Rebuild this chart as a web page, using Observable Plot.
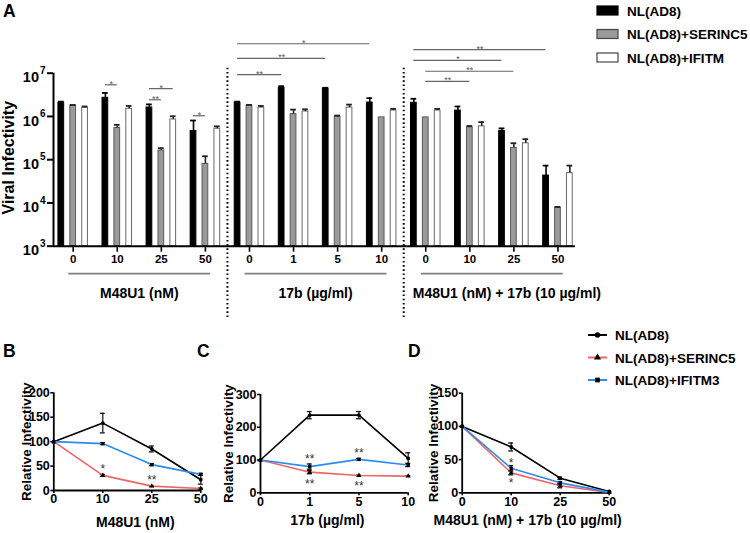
<!DOCTYPE html>
<html><head><meta charset="utf-8">
<script src="https://cdn.jsdelivr.net/npm/d3@7"></script>
<script src="https://cdn.jsdelivr.net/npm/@observablehq/plot@0.6"></script>
<style>
body{margin:0;background:#fff;font-family:"Liberation Sans",Arial,sans-serif;}
#wrap{position:relative;width:750px;height:533px;overflow:hidden;background:#fff;}
#wrap svg{position:absolute;}
</style></head><body><div id="wrap"></div><script>
// ---------------- DATA: panel A ----------------
const seriesA = ["NL(AD8)", "NL(AD8)+SERINC5", "NL(AD8)+IFITM"];
const doseLabelsA = ["0","10","25","50","0","1","5","10","0","10","25","50"];
const treatmentsA = ["M48U1 (nM)", "17b (µg/ml)", "M48U1 (nM) + 17b (10 µg/ml)"];
const treatmentStart = [0, 4, 8];
const treatmentEnd = [3, 7, 11];
const meanAD8 = [2.07e6, 2.7e6, 1.61e6, 4.6e5, 2.07e6, 4.6e6, 4.4e6, 2.1e6, 2.07e6, 1.37e6, 4.6e5, 4.3e4];
const errAD8 = [1.3e5, 8.0e5, 2.9e5, 3.45e5, 1.3e5, 4.0e5, 2.0e5, 5.5e5, 4.9e5, 3.3e5, 7.0e4, 3.0e4];
const meanSERINC5 = [1.79e6, 5.4e5, 1.63e5, 8.0e4, 1.8e6, 1.13e6, 9.8e5, 9.5e5, 9.5e5, 5.6e5, 1.88e5, 7.7e3];
const errSERINC5 = [5.0e4, 1.0e5, 2.2e4, 4.0e4, 5.0e4, 3.1e5, 7.0e4, 0, 0, 4.0e4, 5.2e4, 4.0e2];
const meanIFITM = [1.58e6, 1.5e6, 8.5e5, 5.2e5, 1.6e6, 1.3e6, 1.6e6, 1.37e6, 1.37e6, 5.9e5, 2.4e5, 4.9e4];
const errIFITM = [1.2e5, 2.5e5, 1.6e5, 7.0e4, 1.5e5, 1.6e5, 2.8e5, 1.3e5, 1.3e5, 1.5e5, 5.8e4, 2.4e4];
const yTicksA = [1e3, 1e4, 1e5, 1e6, 1e7];
// significance brackets: group/series of both ends, level, label
const brGroup1 = [1, 2, 2, 3, 4, 4, 4, 8, 8, 8, 8];
const brSeries1 = [0, 0, 0, 0, 0, 0, 0, 0, 0, 1, 1];
const brGroup2 = [1, 2, 2, 3, 5, 6, 7, 11, 10, 10, 9];
const brSeries2 = [1, 2, 1, 1, 0, 0, 0, 0, 0, 1, 1];
const brLevel = [5.4e6, 4.4e6, 2.43e6, 1.04e6, 9.3e6, 2.2e7, 4.8e7, 3.5e7, 1.97e7, 1.11e7, 6.5e6];
const brLabel = ["*", "*", "**", "*", "**", "**", "*", "**", "*", "**", "**"];

// ---------------- DATA: panels B, C, D ----------------
const lineSeries = ["NL(AD8)", "NL(AD8)+SERINC5", "NL(AD8)+IFITM3"];
const dosesB = ["0", "10", "25", "50"];
const bAD8 = [100, 138, 85, 22], bAD8Err = [0, 20, 6, 9];
const bSER = [100, 31, 9, 4], bSERErr = [0, 2, 1, 1];
const bIF = [100, 96, 53, 33], bIFErr = [0, 2, 2, 2];
const starsBx = [1, 2], starsBy = [49, 27], starsBt = ["*", "**"];

const dosesC = ["0", "1", "5", "10"];
const cAD8 = [100, 237, 237, 105], cAD8Err = [0, 11, 11, 17];
const cSER = [100, 63, 53, 51], cSERErr = [0, 5, 1, 1];
const cIF = [100, 80, 102, 85], cIFErr = [0, 8, 3, 5];
const starsCx = [1, 1, 2, 2], starsCy = [111, 37, 131, 29], starsCt = ["**", "**", "**", "**"];

const dosesD = ["0", "10", "25", "50"];
const dAD8 = [100, 69, 22, 2], dAD8Err = [0, 6, 1.5, 1];
const dSER = [100, 30, 10.5, 0.5], dSERErr = [0, 3, 3, 0.5];
const dIF = [100, 37, 15, 1], dIFErr = [0, 4, 2, 1];
const starsDx = [1, 1], starsDy = [49, 18.5], starsDt = ["*", "*"];

// ---------------- STYLE ----------------
const FONT = "Liberation Sans, Arial, Helvetica, sans-serif";
const fillA = ["#000000", "#9a9a9a", "#ffffff"];
const strokeA = ["#000000", "#5a5a5a", "#6a6a6a"];
const capColorA = ["#000000", "#222222", "#222222"];
const groupLabelShift = [0, 0, 15];
const lineColors = ["#000000", "#ef6466", "#2a8cf0"];
const lineSymbols = ["circle", "triangle", "square"];
const wrap = document.getElementById("wrap");

// ---------------- PANEL A ----------------
(function () {
  const OFF = 0.27, BW = 0.13, CAP = 0.065, X0 = -0.447, X1 = 11.398;
  const means = [meanAD8, meanSERINC5, meanIFITM];
  const errs = [errAD8, errSERINC5, errIFITM];
  const pos = (g, si) => g + (si - 1) * OFF;
  const marks = [];
  // separators (dotted)
  marks.push(Plot.ruleX([3.5, 7.5], {x: d => d, y1: () => 1e7, y2: () => 1e3, insetTop: -5, insetBottom: -72,
    stroke: "#000", strokeWidth: 2, strokeDasharray: "1.6,2.6"}));
  seriesA.forEach((s, si) => {
    const rows = means[si].map((v, g) => ({g, v, e: errs[si][g]}));
    marks.push(Plot.rect(rows, {x1: d => pos(d.g, si) - BW / 2, x2: d => pos(d.g, si) + BW / 2,
      y1: () => 1e3, y2: "v", fill: fillA[si], stroke: strokeA[si], strokeWidth: 1}));
    const er = rows.filter(d => d.e > 0);
    marks.push(Plot.ruleX(er, {x: d => pos(d.g, si), y1: "v", y2: d => d.v + d.e, stroke: capColorA[si], strokeWidth: 1.6}));
    marks.push(Plot.ruleY(er, {y: d => d.v + d.e, x1: d => pos(d.g, si) - CAP, x2: d => pos(d.g, si) + CAP, stroke: capColorA[si], strokeWidth: 1.8}));
  });
  // brackets
  const br = brLabel.map((t, k) => ({x1: pos(brGroup1[k], brSeries1[k]), x2: pos(brGroup2[k], brSeries2[k]), y: brLevel[k], t}));
  marks.push(Plot.ruleY(br, {y: "y", x1: "x1", x2: "x2", stroke: "#666", strokeWidth: 1.2}));
  marks.push(Plot.text(br, {x: d => (d.x1 + d.x2) / 2, y: "y", text: "t", lineAnchor: "bottom", dy: 2, fontSize: 9, fill: "#555", fontWeight: "normal"}));
  // axes
  marks.push(Plot.ruleY([1e3], {x1: () => X0, x2: () => X1, strokeWidth: 2}));
  marks.push(Plot.ruleX([X0], {y1: () => 1e3, y2: () => 1e7, strokeWidth: 2}));
  marks.push(Plot.axisY({ticks: yTicksA, tickFormat: () => "", tickSize: 6, strokeWidth: 2, label: null}));
  marks.push(Plot.text(yTicksA, {x: () => X0, y: d => d, text: () => "10", textAnchor: "end", dx: -14.5, dy: 4.5, fontSize: 14.5}));
  marks.push(Plot.text(yTicksA, {x: () => X0, y: d => d, text: d => String(Math.round(Math.log10(d))), textAnchor: "end", dx: -8, dy: -2.5, fontSize: 10}));
  marks.push(Plot.axisX({ticks: d3.range(12), tickFormat: i => doseLabelsA[i], tickSize: 6, tickPadding: 3, fontSize: 11.5, strokeWidth: 1.6, label: null}));
  // group underline + labels
  const grp = treatmentsA.map((t, k) => ({t, a: treatmentStart[k], b: treatmentEnd[k], k}));
  marks.push(Plot.ruleY(grp, {y: () => 1e3, x1: d => d.a - 0.1, x2: d => d.b + 0.12, dy: 27.5, stroke: "#808080", strokeWidth: 1.8}));
  grp.forEach(g => marks.push(Plot.text([g], {x: d => (d.a + d.b) / 2, y: () => 1e3, text: "t", dy: 47, dx: groupLabelShift[g.k], fontSize: 14})));
  marks.push(Plot.text(["Viral Infectivity"], {text: d => d, frameAnchor: "left", textAnchor: "middle", lineAnchor: "middle", rotate: -90, dx: -44.5, dy: -2, fontSize: 16}));
  const svg = Plot.plot({
    width: 600, height: 325,
    marginLeft: 53, marginRight: 25, marginTop: 72.7, marginBottom: 79.3,
    x: {domain: [X0, X1]},
    y: {type: "log", domain: [1e3, 1e7]},
    style: {fontFamily: FONT, fontWeight: "bold", color: "#000", background: "transparent", overflow: "visible"},
    marks
  });
  svg.style.left = "0px"; svg.style.top = "0px";
  wrap.appendChild(svg);
})();

// ---------------- PANELS B, C, D ----------------
function linePanel(cfg) {
  const n = cfg.doses.length;
  const marks = [];
  marks.push(Plot.ruleY([0], {x1: () => 0, x2: () => n - 1, strokeWidth: 1.8}));
  marks.push(Plot.ruleX([0], {y1: () => 0, y2: () => cfg.yMax, strokeWidth: 1.8}));
  lineSeries.forEach((s, si) => {
    const rows = cfg.means[si].map((v, i) => ({i, v, e: cfg.errs[si][i]}));
    const er = rows.filter(d => d.e > 0);
    marks.push(Plot.ruleX(er, {x: "i", y1: d => d.v - d.e, y2: d => d.v + d.e, stroke: "#111", strokeWidth: 1.2}));
    marks.push(Plot.ruleY(er, {y: d => d.v + d.e, x1: d => d.i - cfg.cap, x2: d => d.i + cfg.cap, stroke: "#111", strokeWidth: 1.3}));
    marks.push(Plot.ruleY(er, {y: d => d.v - d.e, x1: d => d.i - cfg.cap, x2: d => d.i + cfg.cap, stroke: "#111", strokeWidth: 1.3}));
    marks.push(Plot.line(rows, {x: "i", y: "v", stroke: lineColors[si], strokeWidth: 1.6}));
    marks.push(Plot.dot(rows, {x: "i", y: "v", symbol: lineSymbols[si], r: 1.9, fill: "#000", stroke: "none"}));
  });
  const stars = cfg.starsT.map((t, k) => ({x: cfg.starsX[k], y: cfg.starsY[k], t}));
  marks.push(Plot.text(stars, {x: "x", y: "y", text: "t", fontSize: 12, dy: 3, fill: "#333", fontWeight: "normal"}));
  marks.push(Plot.axisY({ticks: cfg.yTicks, tickSize: 3, tickPadding: 1, fontSize: 12.5, strokeWidth: 1.6, label: null}));
  marks.push(Plot.axisX({ticks: d3.range(n), tickFormat: i => cfg.doses[i], tickSize: 3, tickPadding: 1, fontSize: 12.5, strokeWidth: 1.6, label: null}));
  marks.push(Plot.text([cfg.title], {text: d => d, frameAnchor: "bottom", textAnchor: "middle", lineAnchor: "middle", dy: cfg.titleDy, dx: cfg.titleDx, fontSize: 14}));
  marks.push(Plot.text(["Relative Infectivity"], {text: d => d, frameAnchor: "left", textAnchor: "middle", lineAnchor: "middle", rotate: -90, dx: cfg.ylabDx, fontSize: 13.5}));
  const svg = Plot.plot({
    width: cfg.width, height: 203,
    marginLeft: cfg.mL, marginRight: cfg.mR, marginTop: cfg.mT, marginBottom: cfg.mB,
    x: {domain: [0, n - 1]},
    y: {domain: [0, cfg.yMax]},
    style: {fontFamily: FONT, fontWeight: "bold", color: "#000", background: "transparent", overflow: "visible"},
    marks
  });
  svg.style.left = cfg.left + "px"; svg.style.top = "330px";
  wrap.appendChild(svg);
}
linePanel({left: 0, width: 215, mL: 53.3, mR: 14.7, mT: 62.3, mB: 43, yMax: 200, yTicks: [0, 50, 100, 150, 200],
  doses: dosesB, means: [bAD8, bSER, bIF], errs: [bAD8Err, bSERErr, bIFErr], cap: 0.05,
  starsX: starsBx, starsY: starsBy, starsT: starsBt, title: "M48U1 (nM)", titleDy: 32, titleDx: 8, ylabDx: -27.3});
linePanel({left: 215, width: 210, mL: 45, mR: 17.3, mT: 64, mB: 40.7, yMax: 300, yTicks: [0, 100, 200, 300],
  doses: dosesC, means: [cAD8, cSER, cIF], errs: [cAD8Err, cSERErr, cIFErr], cap: 0.05,
  starsX: starsCx, starsY: starsCy, starsT: starsCt, title: "17b (µg/ml)", titleDy: 28, titleDx: -7, ylabDx: -32});
linePanel({left: 425, width: 200, mL: 36.7, mR: 16.3, mT: 62.7, mB: 40.7, yMax: 150, yTicks: [0, 50, 100, 150],
  doses: dosesD, means: [dAD8, dSER, dIF], errs: [dAD8Err, dSERErr, dIFErr], cap: 0.05,
  starsX: starsDx, starsY: starsDy, starsT: starsDt, title: "M48U1 (nM) + 17b (10 µg/ml)", titleDy: 28, titleDx: -8, ylabDx: -29});

// ---------------- letters & legends ----------------
const ov = d3.select(wrap).append("svg").attr("width", 750).attr("height", 533)
  .style("left", "0px").style("top", "0px").style("font-family", FONT).style("font-weight", "bold");
[["A", 3, 17], ["B", 3, 357], ["C", 197, 357], ["D", 408, 357]].forEach(([t, x, y]) =>
  ov.append("text").attr("x", x).attr("y", y).attr("font-size", 17.5).text(t));
seriesA.forEach((s, si) => {
  const cy = 10.5 + si * 23.5;
  ov.append("rect").attr("x", 597).attr("y", cy - 4.5).attr("width", 21).attr("height", 9)
    .attr("fill", fillA[si]).attr("stroke", si === 0 ? "#000" : "#444").attr("stroke-width", 1.2);
  ov.append("text").attr("x", 627).attr("y", cy + 5).attr("font-size", 13.5).text(s);
});
lineSeries.forEach((s, si) => {
  const cy = 335 + si * 22.5;
  ov.append("line").attr("x1", 588).attr("x2", 607).attr("y1", cy).attr("y2", cy)
    .attr("stroke", lineColors[si]).attr("stroke-width", 2);
  ov.append("path").attr("transform", `translate(597.5,${cy})`)
    .attr("d", d3.symbol().type([d3.symbolCircle, d3.symbolTriangle, d3.symbolSquare][si]).size(22)())
    .attr("fill", "#000");
  ov.append("text").attr("x", 615).attr("y", cy + 5).attr("font-size", 13.5).text(s);
});
</script></body></html>
